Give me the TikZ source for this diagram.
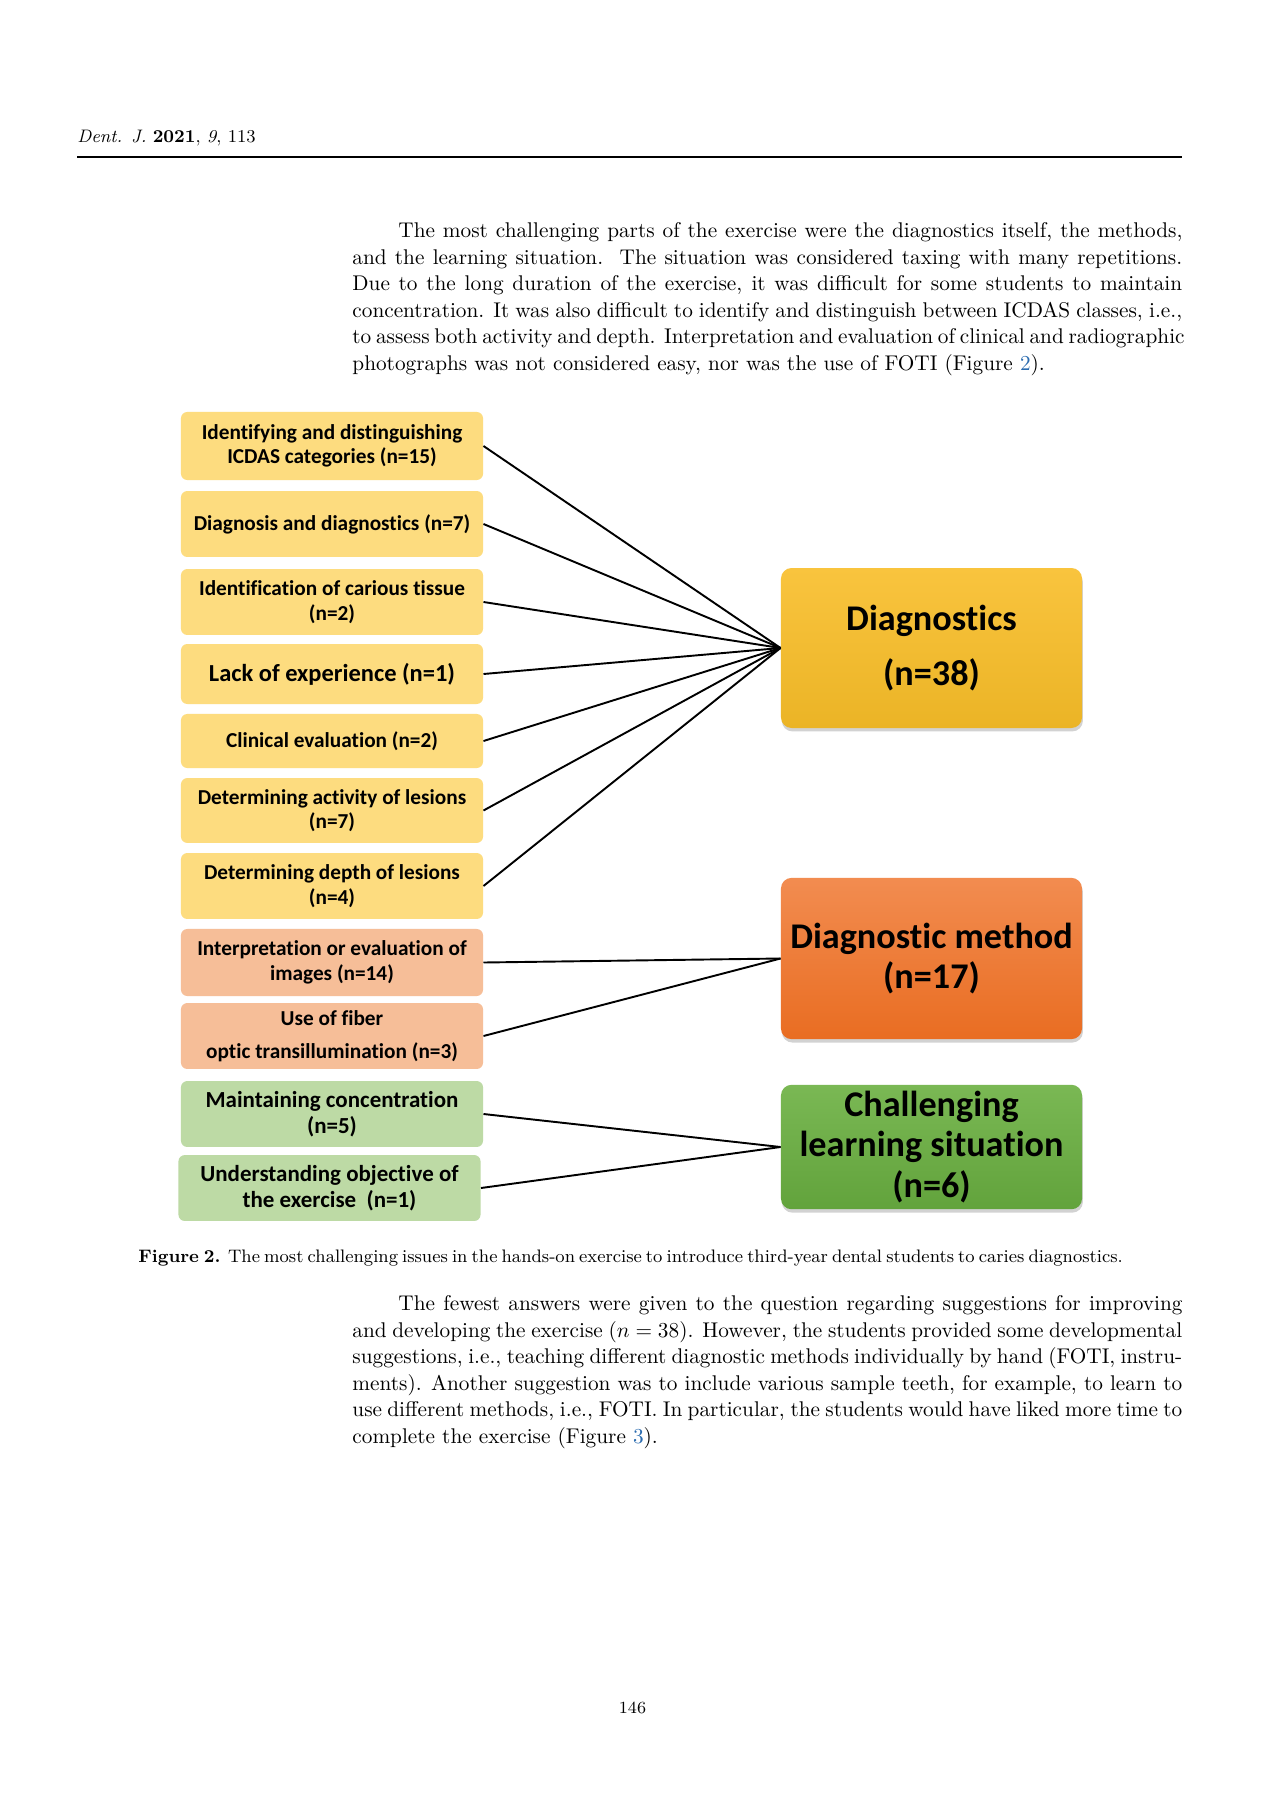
\documentclass[tikz,border=0pt]{standalone}
\usepackage{fontspec}
\setsansfont{Carlito}[Ligatures=NoCommon]
\usetikzlibrary{shapes,shadows}

\definecolor{itemyellow}{HTML}{FDDC7F}
\definecolor{itemorange}{HTML}{F6BE98}
\definecolor{itemgreen}{HTML}{BDDAA5}
\definecolor{dgtop}{HTML}{F9C43E}
\definecolor{dgmid}{HTML}{FFC20A}
\definecolor{dgbot}{HTML}{EBB426}
\definecolor{mttop}{HTML}{F28C50}
\definecolor{mtmid}{HTML}{F07C33}
\definecolor{mtbot}{HTML}{E96D22}
\definecolor{lstop}{HTML}{7AB854}
\definecolor{lsmid}{HTML}{6EAF47}
\definecolor{lsbot}{HTML}{62A33C}
\definecolor{linkblue}{HTML}{2B6CB0}

\begin{document}
\begin{tikzpicture}[x=0.47pt, y=-0.47pt]
\tikzstyle{itembox}=[rectangle, rounded corners=3pt, minimum width=142pt, minimum height=31pt, inner sep=1pt, align=center, font={\sffamily\bfseries\fontsize{10}{11.5}\selectfont}]
\tikzstyle{itemy}=[itembox, fill=itemyellow]
\tikzstyle{itemo}=[itembox, fill=itemorange]
\tikzstyle{itemg}=[itembox, fill=itemgreen]
\tikzstyle{groupbox}=[rectangle, rounded corners=5pt, minimum width=141.5pt, inner sep=1pt, align=center, font={\sffamily\bfseries\fontsize{17}{19}\selectfont}, drop shadow={shadow xshift=0.4pt, shadow yshift=-1.6pt, opacity=0.35}]
\tikzstyle{bodyline}=[anchor=west, inner sep=0pt, font={\fontsize{10}{12}\selectfont}]
\tikzstyle{drawstyle}=[line width=0.9pt, black]

\fill[white] (0,0) rectangle (1266,1817);
\useasboundingbox (0,0) rectangle (1266,1817);

% page head
\node[anchor=west, inner sep=0pt, font={\fontsize{8.5}{10}\selectfont}] (H0) at (77,138.5) {\textit{Dent. J.} \textbf{2021}, \textit{9}, 113};
\draw[line width=0.5pt] (77,157) -- (1182,157);

\node[bodyline] (P0) at (398,232.5) {\makebox[368.5pt][s]{The most challenging parts of the exercise were the diagnostics itself, the methods,}};
\node[bodyline] (P1) at (352,259) {\makebox[390pt][s]{and the learning situation.\ \ The situation was considered taxing with many repetitions.}};
\node[bodyline] (P2) at (352,285.5) {\makebox[390pt][s]{Due to the long duration of the exercise, it was difficult for some students to maintain}};
\node[bodyline] (P3) at (352,312) {\makebox[390pt][s]{concentration. It was also difficult to identify and distinguish between ICDAS classes, i.e.,}};
\node[bodyline] (P4) at (352,338.5) {\makebox[390pt][s]{to assess both activity and depth. Interpretation and evaluation of clinical and radiographic}};
\node[bodyline] (P5) at (352,365.5) {photographs was not considered easy, nor was the use of FOTI (Figure~\textcolor{linkblue}{2}).};

% causes
\node[itemy, minimum height=32pt] (L0) at (332,446) {Identifying and distinguishing\\ICDAS categories (n=15)};
\node[itemy] (L1) at (332,524) {Diagnosis and diagnostics (n=7)};
\node[itemy] (L2) at (332,602) {Identification of carious tissue\\(n=2)};
\node[itemy, minimum height=28.2pt, font={\sffamily\bfseries\fontsize{11.5}{13}\selectfont}] (L3) at (332,674) {Lack of experience (n=1)};
\node[itemy, minimum height=25.4pt] (L4) at (332,741) {Clinical evaluation (n=2)};
\node[itemy, minimum height=30.5pt] (L5) at (332,810.5) {Determining activity of lesions\\(n=7)};
\node[itemy] (L6) at (332,886) {Determining depth of lesions\\(n=4)};
\node[itemo, minimum height=31.5pt] (L7) at (332,962.5) {Interpretation or evaluation of\\images (n=14)};
\node[itemo] (L8) at (332,1036) {Use of fiber\\[4pt]optic transillumination (n=3)};
\node[itemg, font={\sffamily\bfseries\fontsize{10.8}{12}\selectfont}] (L9) at (332,1114) {Maintaining concentration\\(n=5)};
\node[itemg, font={\sffamily\bfseries\fontsize{10.8}{12}\selectfont}] (L10) at (329.5,1188) {Understanding objective of\\the exercise\ \ (n=1)};

% groups
\node[groupbox, minimum height=75.2pt, top color=dgtop, middle color=dgmid, bottom color=dgbot, font={\sffamily\bfseries\fontsize{17}{20}\selectfont}] (R0) at (931.5,648) {Diagnostics\\[6pt](n=38)};
\node[groupbox, minimum height=75.8pt, top color=mttop, middle color=mtmid, bottom color=mtbot] (R1) at (931.5,958.5) {Diagnostic method\\(n=17)};
\node[groupbox, minimum height=58.5pt, top color=lstop, middle color=lsmid, bottom color=lsbot] (R2) at (931.5,1147) {Challenging\\learning situation\\(n=6)};

\draw[drawstyle] (L0.east) -- (R0.west);
\draw[drawstyle] (L1.east) -- (R0.west);
\draw[drawstyle] (L2.east) -- (R0.west);
\draw[drawstyle] (L3.east) -- (R0.west);
\draw[drawstyle] (L4.east) -- (R0.west);
\draw[drawstyle] (L5.east) -- (R0.west);
\draw[drawstyle] (L6.east) -- (R0.west);
\draw[drawstyle] (L7.east) -- (R1.west);
\draw[drawstyle] (L8.east) -- (R1.west);
\draw[drawstyle] (L9.east) -- (R2.west);
\draw[drawstyle] (L10.east) -- (R2.west);

% caption and text below
\node[anchor=west, inner sep=0pt, font={\fontsize{8.5}{10}\selectfont}] (C0) at (138,1258) {\makebox[460pt][s]{\textbf{Figure 2.} The most challenging issues in the hands-on exercise to introduce third-year dental students to caries diagnostics.}};

\node[bodyline] (Q0) at (398,1305.5) {\makebox[368.5pt][s]{The fewest answers were given to the question regarding suggestions for improving}};
\node[bodyline] (Q1) at (352,1332) {\makebox[390pt][s]{and developing the exercise ($n = 38$). However, the students provided some developmental}};
\node[bodyline] (Q2) at (352,1358.5) {\makebox[390pt][s]{suggestions, i.e., teaching different diagnostic methods individually by hand (FOTI, instru-}};
\node[bodyline] (Q3) at (352,1385) {\makebox[390pt][s]{ments). Another suggestion was to include various sample teeth, for example, to learn to}};
\node[bodyline] (Q4) at (352,1411.5) {\makebox[390pt][s]{use different methods, i.e., FOTI. In particular, the students would have liked more time to}};
\node[bodyline] (Q5) at (352,1438.5) {complete the exercise (Figure~\textcolor{linkblue}{3}).};

\node[inner sep=0pt, font={\fontsize{8}{10}\selectfont}] (N0) at (632.5,1708) {146};
\end{tikzpicture}
\end{document}
